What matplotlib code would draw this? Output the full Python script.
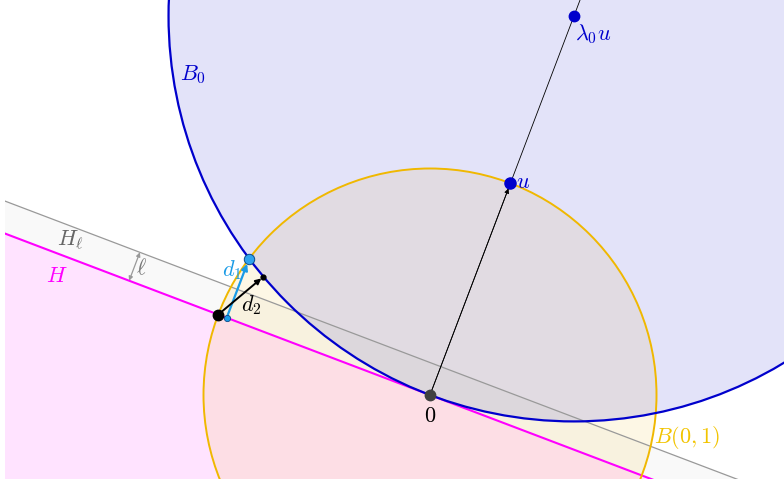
import numpy as np
import matplotlib
matplotlib.use("Agg")
import matplotlib.pyplot as plt
from matplotlib.patches import Circle, Polygon

plt.rcParams['mathtext.fontset'] = 'cm'

# ---- values ----
theta_deg = 69.2      # direction of u
lam0 = 1.79           # lambda_0 (B_0 = B(lam0*u, lam0))
ell = 0.134           # width of strip between H and H_ell
ell_arrow_s = -1.421  # position along boundary of H where ell is marked
labels = ["$B_0$", r"$\lambda_0 u$", "$u$", "$0$", "$B(0,1)$",
          r"$H_\ell$", r"$\ell$", "$H$", "$d_1$", "$d_2$"]

# colours
BLUE = '#0000cc'
GOLD = '#f0b800'
MAG = '#ff00ff'
GRAY = '#999999'
LBLUE = '#1a9be6'

th = np.deg2rad(theta_deg)
u = np.array([np.cos(th), np.sin(th)])
w = np.array([np.sin(th), -np.cos(th)])   # direction of boundary of H
c0 = lam0 * u

fig = plt.figure(figsize=(7.84, 4.85), dpi=100)
ax = fig.add_axes([5/784, 5/485, 779/784, 480/485])
scale = 226.5
ox, oy = 430, 396
ax.set_xlim((5 - ox) / scale, (784 - ox) / scale)
ax.set_ylim((oy - 480) / scale, oy / scale)
ax.axis('off')

# half-planes
def halfplane(off):
    base = off * u
    p1 = base + 10 * w
    p2 = base - 10 * w
    return [p1, p2, p2 - 10 * u, p1 - 10 * u]

def strip(lo, hi):
    return [lo * u + 10 * w, lo * u - 10 * w, hi * u - 10 * w, hi * u + 10 * w]

ax.add_patch(Polygon(strip(0, ell), closed=True, facecolor='#999999', alpha=0.05, edgecolor='none', zorder=1))
ax.add_patch(Polygon(halfplane(0), closed=True, facecolor=MAG, alpha=0.11, edgecolor='none', zorder=2))
ax.add_patch(Circle((0, 0), 1, facecolor=GOLD, alpha=0.1, edgecolor='none', zorder=3))
ax.add_patch(Circle(c0, lam0, facecolor=BLUE, alpha=0.11, edgecolor='none', zorder=4))

# boundary lines
L = np.array([-10, 10])
for off, col, lw in [(ell, GRAY, 0.9), (0, MAG, 1.5)]:
    pts = off * u[None, :] + L[:, None] * w[None, :]
    ax.plot(pts[:, 0], pts[:, 1], color=col, lw=lw, zorder=5)
ax.add_patch(Circle((0, 0), 1, facecolor='none', edgecolor=GOLD, lw=1.4, zorder=6))
ax.add_patch(Circle(c0, lam0, facecolor='none', edgecolor=BLUE, lw=1.6, zorder=7))

# ray from 0 along u
far = 3 * u
ax.plot([0, far[0]], [0, far[1]], color='black', lw=0.6, zorder=8)
ax.annotate('', xy=u, xytext=(0, 0),
            arrowprops=dict(arrowstyle='-|>', color='black', lw=0.6,
                            mutation_scale=7, shrinkA=0, shrinkB=4), zorder=8)

# points of interest
q = -w                                  # unit circle ∩ boundary of H (left)
a = 1 / (2 * lam0)                      # unit circle ∩ B_0 (left)
p = a * u + np.sqrt(1 - a**2) * (-w)
proj = p - np.dot(p, u) * u
dirc = (c0 - q) / np.linalg.norm(c0 - q)
r2 = q + (np.linalg.norm(c0 - q) - lam0) * dirc

# ell double arrow
e0 = ell_arrow_s * w
ax.annotate('', xy=e0 + ell * u, xytext=e0,
            arrowprops=dict(arrowstyle='<|-|>', color=GRAY, lw=0.9,
                            mutation_scale=6, shrinkA=0, shrinkB=0), zorder=9)

# d1 and d2 arrows
ax.annotate('', xy=p, xytext=proj,
            arrowprops=dict(arrowstyle='-|>', color=LBLUE, lw=1.6,
                            mutation_scale=9, shrinkA=0, shrinkB=4), zorder=10)
ax.annotate('', xy=r2, xytext=q,
            arrowprops=dict(arrowstyle='-|>', color='black', lw=1.4,
                            mutation_scale=8, shrinkA=3, shrinkB=2), zorder=10)

ax.plot(*r2, 'o', color='black', ms=3.5, zorder=11)
ax.plot(*proj, 'o', mfc=LBLUE, mec='#0a4a8a', mew=0.6, ms=4.5, zorder=11)
ax.plot(*q, 'o', color='black', ms=7.5, zorder=11)
ax.plot(*p, 'o', mfc='#2ea3ee', mec='#0a4a8a', mew=0.7, ms=7.5, zorder=11)
ax.plot(0, 0, 'o', color='#404040', ms=7.5, zorder=11)
ax.plot(*u, 'o', color=BLUE, ms=8, zorder=11)
ax.plot(*c0, 'o', color=BLUE, ms=7.5, zorder=11)

fs = 16
ax.text(-1.046, 1.417, labels[0], color=BLUE, fontsize=fs, ha='center', va='center', zorder=12)
ax.text(c0[0] + 0.005, c0[1] - 0.075, labels[1], color=BLUE, fontsize=fs, ha='left', va='center', zorder=12)
ax.text(0.38, 0.945, labels[2], color=BLUE, fontsize=fs, ha='left', va='center', zorder=12)
ax.text(0, -0.09, labels[3], color='black', fontsize=fs, ha='center', va='center', zorder=12)
ax.text(0.99, -0.185, labels[4], color='#f2c400', fontsize=fs, ha='left', va='center', zorder=12)
ax.text(-1.589, 0.689, labels[5], color='#666666', fontsize=fs, ha='center', va='center', zorder=12)
ax.text(-1.275, 0.565, labels[6], color='#777777', fontsize=fs, ha='center', va='center', zorder=12)
ax.text(-1.647, 0.530, labels[7], color=MAG, fontsize=fs, ha='center', va='center', zorder=12)
ax.text(-0.874, 0.556, labels[8], color=LBLUE, fontsize=fs, ha='center', va='center', zorder=12)
ax.text(-0.790, 0.402, labels[9], color='black', fontsize=fs, ha='center', va='center', zorder=12)

fig.savefig('out.png', dpi=100)
